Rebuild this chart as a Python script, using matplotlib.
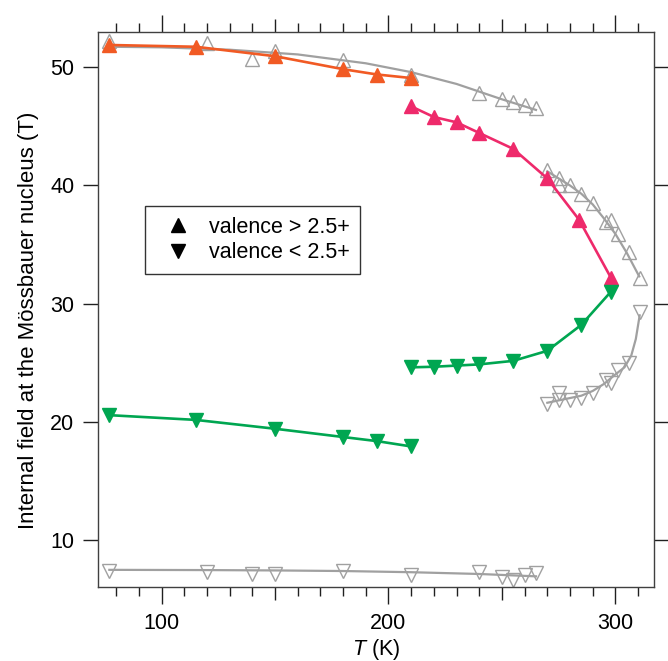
import matplotlib
matplotlib.use("Agg")
import matplotlib.pyplot as plt
from matplotlib.lines import Line2D

plt.rcParams["font.family"] = ["Liberation Sans", "DejaVu Sans"]
plt.rcParams["mathtext.fontset"] = "custom"
plt.rcParams["mathtext.rm"] = "Liberation Sans"
plt.rcParams["mathtext.it"] = "Liberation Sans:italic"

# low-T phase, valence > 2.5+ (filled up triangles)
lo_up_T = [77, 115, 150, 180, 195, 210]
lo_up_H = [51.9, 51.75, 50.95, 49.85, 49.4, 49.1]

# low-T phase, valence < 2.5+ (filled down triangles)
lo_dn_T = [77, 115, 150, 180, 195, 210]
lo_dn_H = [20.55, 20.15, 19.4, 18.7, 18.35, 17.9]

# high-T phase, valence > 2.5+
hi_up_T = [210, 220, 230, 240, 255, 270, 284, 298]
hi_up_H = [46.7, 45.8, 45.35, 44.45, 43.1, 40.6, 37.1, 32.2]

# high-T phase, valence < 2.5+
hi_dn_T = [210, 220, 230, 240, 255, 270, 285, 298]
hi_dn_H = [24.6, 24.65, 24.75, 24.85, 25.15, 26.0, 28.2, 31.0]

# reference sample (open grey triangles)
ref_hi_T = [77, 120, 140, 150, 180, 210, 240, 250, 255, 260, 265]
ref_hi_H = [52.2, 52.05, 50.7, 51.4, 50.6, 49.4, 47.8, 47.3, 47.05, 46.85, 46.6]
ref_hi_fit_T = [77, 100, 130, 160, 190, 210, 230, 250, 265]
ref_hi_fit_H = [51.75, 51.7, 51.5, 51.1, 50.35, 49.6, 48.6, 47.3, 46.4]

ref_up_T = [270, 275, 275, 280, 285, 290, 296, 298, 301, 306, 311]
ref_up_H = [41.3, 40.65, 40.0, 40.0, 39.3, 38.5, 36.9, 37.1, 35.9, 34.4, 32.2]
ref_up_fit_T = [270, 275, 280, 285, 290, 295, 300, 305, 310.5]
ref_up_fit_H = [41.2, 40.6, 40.0, 39.3, 38.4, 37.2, 35.9, 34.3, 32.3]

ref_dn_T = [270, 275, 275, 280, 285, 290, 296, 298, 301, 306, 311]
ref_dn_H = [21.5, 22.45, 21.85, 21.8, 22.0, 22.45, 23.5, 23.25, 24.4, 24.95, 29.3]
ref_dn_fit_T = [270, 275, 280, 285, 290, 295, 300, 304, 307, 309, 310.7]
ref_dn_fit_H = [21.6, 21.8, 22.0, 22.2, 22.6, 23.2, 24.0, 24.6, 25.6, 27.0, 29.0]

ref_lo_T = [77, 120, 140, 150, 180, 210, 240, 250, 255, 260, 265]
ref_lo_H = [7.35, 7.25, 7.1, 7.1, 7.35, 7.05, 7.25, 6.85, 6.6, 7.05, 7.2]
ref_lo_fit_T = [77, 120, 150, 180, 210, 240, 265]
ref_lo_fit_H = [7.45, 7.43, 7.4, 7.35, 7.25, 7.1, 6.9]

orange = "#f15a24"
pink = "#ee2a6b"
green = "#00a651"
grey = "#a0a0a0"

fig = plt.figure(figsize=(6.68, 6.61), dpi=100)
ax = fig.add_axes([0.1467, 0.112, 0.8323, 0.8396])

# grey reference curves and open markers
for fT, fH in [(ref_hi_fit_T, ref_hi_fit_H), (ref_up_fit_T, ref_up_fit_H),
               (ref_dn_fit_T, ref_dn_fit_H), (ref_lo_fit_T, ref_lo_fit_H)]:
    ax.plot(fT, fH, color=grey, lw=1.6, zorder=1)
for T, H, m in [(ref_hi_T, ref_hi_H, "^"), (ref_up_T, ref_up_H, "^"),
                (ref_dn_T, ref_dn_H, "v"), (ref_lo_T, ref_lo_H, "v")]:
    ax.plot(T, H, ls="none", marker=m, ms=9.5, mfc="none", mec=grey,
            mew=1.0, zorder=2)

# coloured series
ax.plot(lo_up_T, lo_up_H, color=orange, lw=1.9, marker="^", ms=9.5, zorder=3)
ax.plot(hi_up_T, hi_up_H, color=pink, lw=1.9, marker="^", ms=9.5, zorder=3)
ax.plot(lo_dn_T, lo_dn_H, color=green, lw=1.9, marker="v", ms=9.5, zorder=3)
ax.plot(hi_dn_T, hi_dn_H, color=green, lw=1.9, marker="v", ms=9.5, zorder=3)

ax.set_xlim(72, 317)
ax.set_ylim(6.0, 53.0)
ax.set_xticks([100, 200, 300])
ax.set_xticks(range(80, 317, 10), minor=True)
ax.set_yticks([10, 20, 30, 40, 50])

for s in ax.spines.values():
    s.set_color("#404040")
    s.set_linewidth(1.0)

ax.tick_params(axis="both", which="major", direction="out", length=12,
               width=1.0, labelsize=15.5, color="#202020")
ax.tick_params(axis="x", which="major", pad=7)
ax.tick_params(axis="y", which="major", pad=6, length=11)
ax.tick_params(axis="x", which="minor", direction="out", length=6.5,
               width=1.0, color="#202020")
ax.tick_params(axis="x", which="both", top=True)
ax.tick_params(axis="y", which="both", right=True)

# half-century ticks a bit longer
fig.canvas.draw()
for tick in ax.xaxis.get_minor_ticks():
    loc = tick.get_loc()
    if loc is not None and abs(loc % 100 - 50) < 1e-6:
        tick.tick1line.set_markersize(9.5)
        tick.tick2line.set_markersize(9.5)

ax.set_xlabel("$\\it{T}$ (K)", fontsize=15.5, labelpad=2)
ax.set_ylabel("Internal field at the Mössbauer nucleus (T)", fontsize=16)
ax.yaxis.set_label_coords(-0.107, 0.481)

handles = [
    Line2D([], [], ls="none", marker="^", ms=9.5, color="black"),
    Line2D([], [], ls="none", marker="v", ms=9.5, color="black"),
]
leg = ax.legend(handles, ["valence > 2.5+", "valence < 2.5+"],
                loc="upper left", bbox_to_anchor=(0.0845, 0.6865),
                borderaxespad=0, fontsize=15.5, frameon=True, fancybox=False,
                edgecolor="black", handlelength=2.07, handletextpad=0.4,
                borderpad=0.5, labelspacing=0.2)
leg.get_frame().set_linewidth(1.0)

fig.savefig("out.png", dpi=100)
